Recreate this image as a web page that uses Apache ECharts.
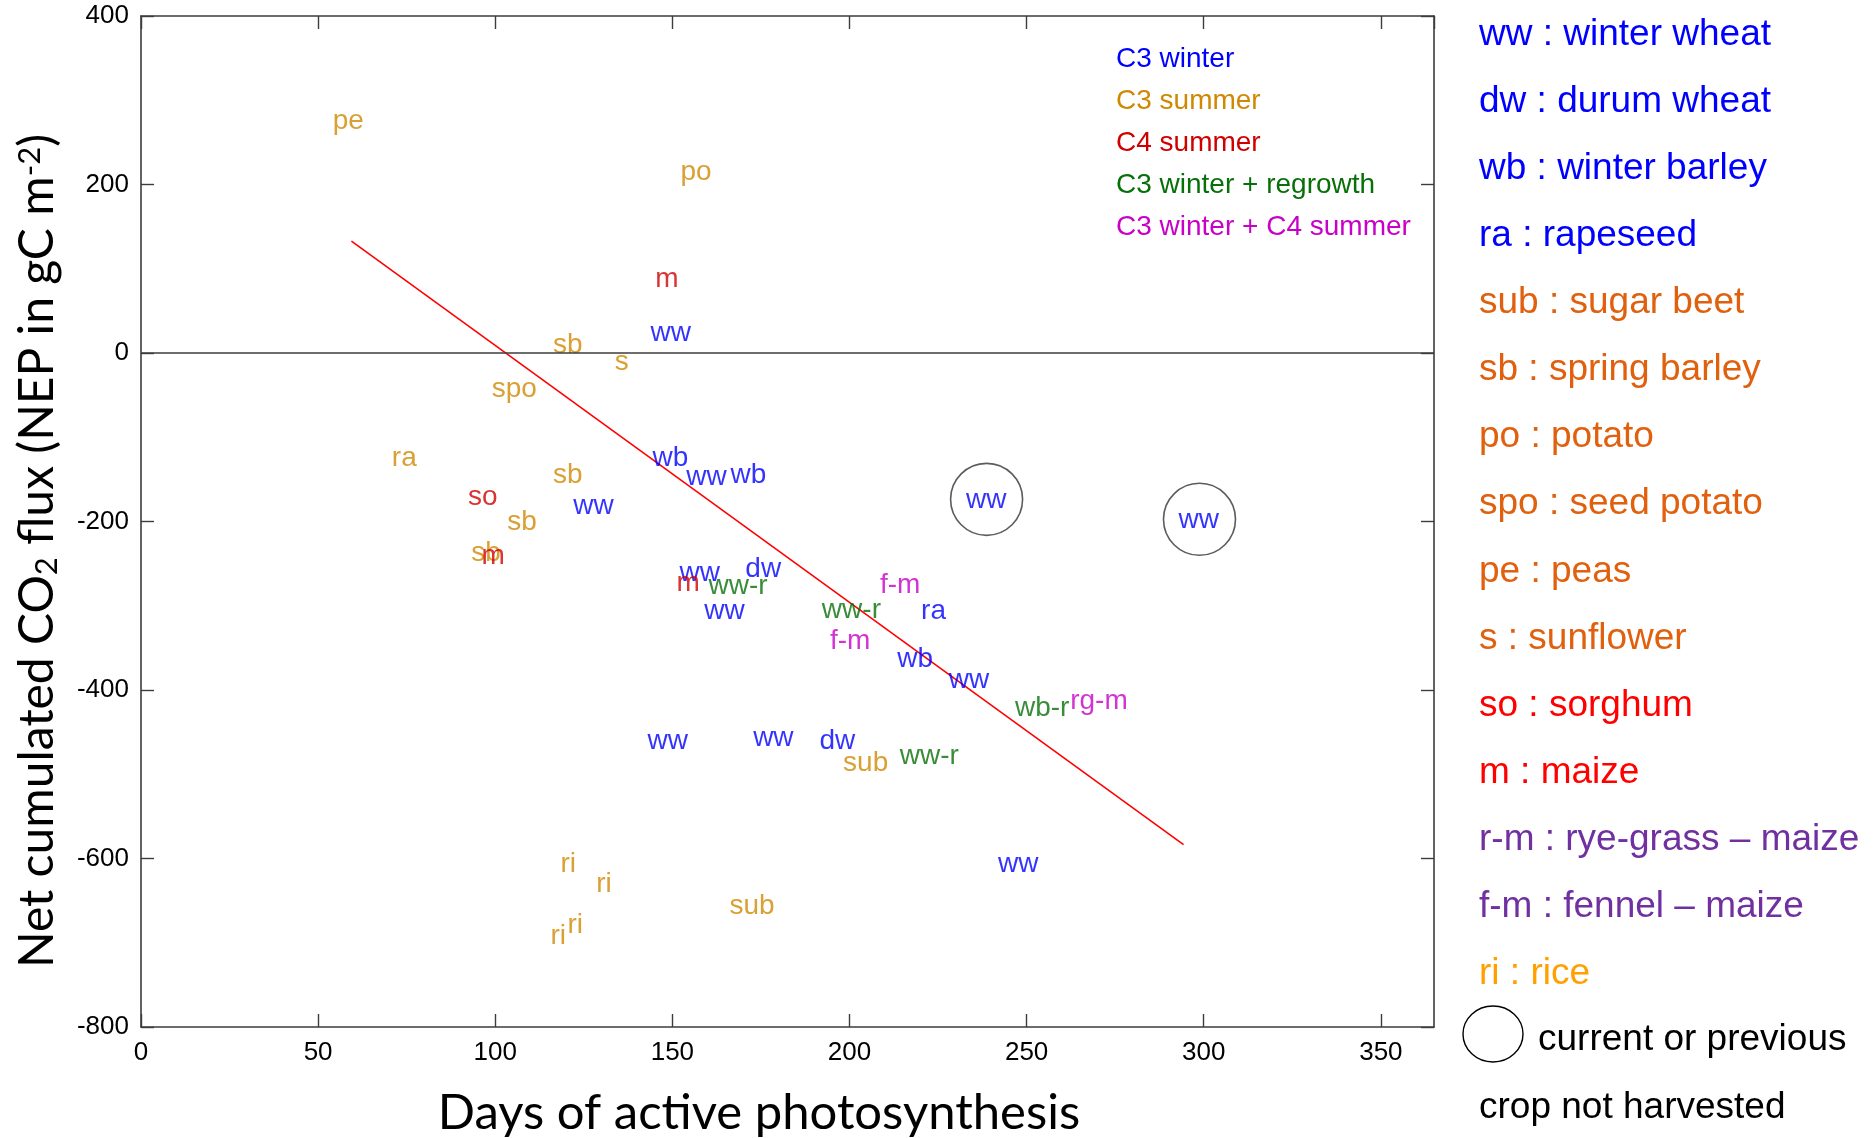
<!DOCTYPE html>
<html><head><meta charset="utf-8">
<script src="https://cdn.jsdelivr.net/npm/echarts@6/dist/echarts.min.js"></script>
<style>html,body{margin:0;padding:0;background:#fff}#c{width:1873px;height:1138px}</style>
</head><body><div id="c"></div>
<script>
// ---------- data ----------
const c3WinterLabels = ['ww','wb','ww','wb','ww','ww','ww','ww','dw','ww','ra','wb','ww','ww','ww','dw','ww'];
const c3WinterX = [143.8,144.4,153.9,166.4,122.0,232.9,292.9,152.0,170.6,159.0,220.2,213.5,228.0,143.0,172.8,191.5,241.9];
const c3WinterY = [23,-125.2,-147.8,-145,-181.7,-174.6,-198.3,-261.6,-256.4,-307,-307,-363.5,-388,-461.2,-457.2,-461.2,-607.4];

const c3SummerLabels = ['pe','po','sb','s','spo','ra','sb','sb','sb','sub','ri','ri','sub','ri','ri'];
const c3SummerX = [54.1,152.3,116.3,133.7,99.0,70.8,116.3,103.4,93.2,198.2,118.4,128.5,166.1,120.4,115.6];
const c3SummerY = [275,214.6,9.1,-10.7,-43.4,-125.2,-145,-201.5,-237.9,-486.8,-607.4,-631,-656.8,-679.7,-692.4];

const c4SummerLabels = ['m','so','m','m'];
const c4SummerX = [145.2,92.3,96.1,151.2];
const c4SummerY = [87,-171.4,-241.8,-273.4];

const regrowthLabels = ['ww-r','ww-r','wb-r','ww-r'];
const regrowthX = [160.2,192.2,246.7,214.2];
const regrowthY = [-276.6,-305.8,-421.6,-479];

const doubleLabels = ['f-m','f-m','rg-m'];
const doubleX = [208.6,194.5,262.3];
const doubleY = [-275.4,-342.6,-413.7];

// crops not harvested (circled)
const circleX = [238.7,298.8];
const circleY = [-173.7,-197.4];

// regression line end points
const fitX = [59.4,294.3];
const fitY = [132.8,-583.6];

const groupNames = ['C3 winter','C3 summer','C4 summer','C3 winter + regrowth','C3 winter + C4 summer'];
const groupColors = ['#0000FF','#D08800','#D00000','#087008','#C800C8'];

const keyLines = ['ww : winter wheat','dw : durum wheat','wb : winter barley','ra : rapeseed',
  'sub : sugar beet','sb : spring barley','po : potato','spo : seed potato','pe : peas',
  's : sunflower','so : sorghum','m : maize','r-m : rye-grass \u2013 maize','f-m : fennel \u2013 maize','ri : rice'];
const keyColors = ['#0000FF','#0000FF','#0000FF','#0000FF',
  '#E0600E','#E0600E','#E0600E','#E0600E','#E0600E','#E0600E',
  '#FF0000','#FF0000','#7030A0','#7030A0','#FFA000'];

const xTicksMin = 0, xTicksMax = 365, xStep = 50;
const yTicksMin = -800, yTicksMax = 400, yStep = 200;

// ---------- chart ----------
const FONT = '"Liberation Sans", Arial, Helvetica, sans-serif';
const AXC = '#3c3c3c';
function pts(xs, ys, ls){ return xs.map((x,i)=>[x, ys[i], ls ? ls[i] : '']); }
const groups = [
  pts(c3WinterX,c3WinterY,c3WinterLabels),
  pts(c3SummerX,c3SummerY,c3SummerLabels),
  pts(c4SummerX,c4SummerY,c4SummerLabels),
  pts(regrowthX,regrowthY,regrowthLabels),
  pts(doubleX,doubleY,doubleLabels)
];

const GL = 141, GR = 1434, GT = 16, GB = 1027;

function baseAxis(extra){ return Object.assign({
  type:'value', splitLine:{show:false},
  axisLine:{show:true, onZero:false, lineStyle:{color:AXC,width:1.6}},
  axisTick:{show:true, inside:true, length:13, lineStyle:{color:AXC,width:1.4}},
  axisLabel:{show:false}
}, extra); }

const series = groups.map((g,i)=>({
  type:'scatter', name:groupNames[i], xAxisIndex:0, yAxisIndex:0,
  data:g, symbolSize:0, silent:true, z:3+i,
  label:{show:true, position:[0,0], align:'left', verticalAlign:'middle',
    formatter:p=>p.data[2], color:groupColors[i], fontSize:28, fontFamily:FONT}
}));
series.unshift({
  type:'scatter', name:'not harvested', data:pts(circleX,circleY), symbol:'circle', symbolSize:72,
  silent:true, itemStyle:{color:'rgba(0,0,0,0)', borderColor:'#333', borderWidth:1.6}, z:2
});
series.unshift({
  type:'line', name:'fit', data:pts(fitX,fitY), showSymbol:false, symbol:'none', silent:true,
  lineStyle:{color:'#FF0000', width:1.6}, z:2,
  markLine:{silent:true, symbol:'none', label:{show:false}, lineStyle:{color:AXC, width:1.6, type:'solid'},
    data:[{yAxis:0}]}
});

const graphics = [];
// legend inside plot
groupNames.forEach((n,i)=>graphics.push({type:'text', x:1116, y:59+i*42.1,
  style:{text:n, fill:groupColors[i], font:'28px '+FONT, verticalAlign:'middle', align:'left'}}));
// key on the right
keyLines.forEach((t,i)=>graphics.push({type:'text', x:1479, y:34.5+i*67.1,
  style:{text:t, fill:keyColors[i], font:'37px '+FONT, verticalAlign:'middle', align:'left'}}));
graphics.push({type:'ellipse', shape:{cx:1493, cy:1034, rx:30, ry:28},
  style:{fill:'none', stroke:'#000', lineWidth:1.4}});
graphics.push({type:'text', x:1538, y:1040, style:{text:'current or previous', fill:'#000', font:'37px '+FONT, verticalAlign:'middle', align:'left'}});
graphics.push({type:'text', x:1479, y:1107.5, style:{text:'crop not harvested', fill:'#000', font:'37px '+FONT, verticalAlign:'middle', align:'left'}});
// axis titles
graphics.push({type:'text', x:759, y:1113, style:{text:'Days of active photosynthesis', fill:'#000',
  font:'49px Lato, "Open Sans", sans-serif', align:'center', verticalAlign:'middle'}});
graphics.push({type:'text', x:38, y:551, rotation:Math.PI/2, style:{
  text:'Net cumulated CO{sub|2} flux (NEP in gC m{sup|-2})', fill:'#000',
  font:'48px Lato, "Open Sans", sans-serif', align:'center', verticalAlign:'middle',
  rich:{sub:{fontSize:31, fontFamily:'Lato', verticalAlign:'bottom', fill:'#000'},
        sup:{fontSize:31, fontFamily:'Lato', verticalAlign:'top', fill:'#000'}}}});

const option = {
  animation:false, backgroundColor:'#fff',
  grid:{left:GL, right:1873-GR, top:GT, bottom:1138-GB, containLabel:false},
  xAxis:[
    baseAxis({position:'bottom', min:xTicksMin, max:xTicksMax, interval:xStep,
      axisLabel:{show:true, showMaxLabel:false, color:'#000', fontSize:26, fontFamily:FONT, margin:13}}),
    baseAxis({position:'top', min:xTicksMin, max:xTicksMax, interval:xStep})
  ],
  yAxis:[
    baseAxis({position:'left', min:yTicksMin, max:yTicksMax, interval:yStep,
      axisLabel:{show:true, color:'#000', fontSize:26, fontFamily:FONT, margin:12}}),
    baseAxis({position:'right', min:yTicksMin, max:yTicksMax, interval:yStep})
  ],
  series:series,
  graphic:graphics
};
const chart = echarts.init(document.getElementById('c'), null, {renderer:'canvas'});
chart.setOption(option);
</script></body></html>
